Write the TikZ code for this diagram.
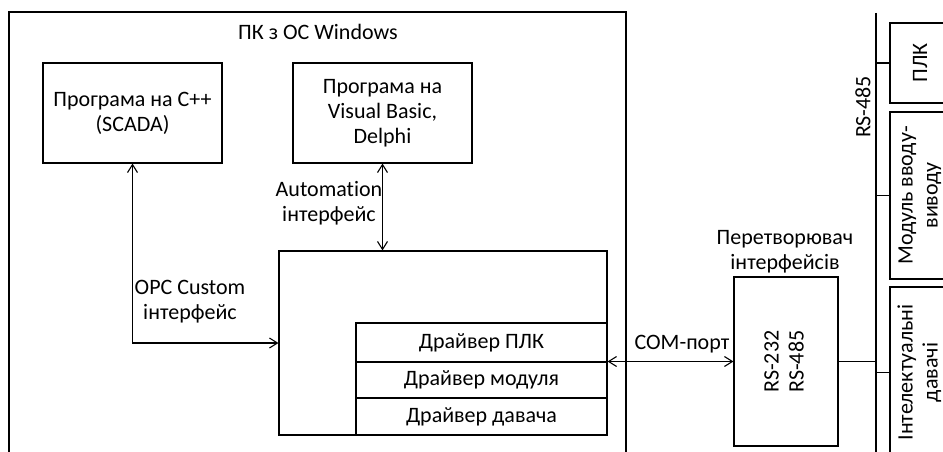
\documentclass[tikz,border=0pt]{standalone}
\usepackage{fontspec}
\setmainfont{Carlito}[Ligatures=NoCommon]
\usetikzlibrary{arrows.meta}
\begin{document}
\begin{tikzpicture}[x=1pt, y=-1pt, line width=1.1pt,
  font=\fontsize{22}{25}\selectfont,
  box/.style={draw, inner sep=0pt, align=center},
  lbl/.style={inner sep=0pt, align=center},
  link/.style={{Straight Barb[length=8pt,width=10pt]}-{Straight Barb[length=8pt,width=10pt]}}]
\useasboundingbox (0,0) rectangle (943,452);
\clip (0,0) rectangle (943,452);

% PC frame
\draw (9,470) -- (9,12) -- (626,12) -- (626,470);
\node[lbl] (title) at (318,32) {ПК з ОС Windows};

% applications
\node[box, minimum width=179pt, minimum height=100pt] (cpp) at (132.5,113) {Програма на C++\\(SCADA)};
\node[box, minimum width=179pt, minimum height=100pt] (vb) at (382.5,113) {Програма на\\Visual Basic,\\Delphi};

% OPC server with drivers
\node[box, minimum width=328pt, minimum height=184pt] (srv) at (443,343) {};
\node[box, minimum width=251pt, minimum height=39pt] (dplc) at (481.5,342.5) {Драйвер ПЛК};
\node[box, minimum width=251pt, minimum height=36pt] (dmod) at (481.5,380) {Драйвер модуля};
\node[box, minimum width=251pt, minimum height=37pt] (dsen) at (481.5,416.5) {Драйвер давача};

% interfaces inside the PC
\draw[link] (cpp.south) |- (srv.west);
\draw[link] (vb.south) -- (vb.south |- srv.north);
\node[lbl] (opclbl) at (190,302) {OPC Custom\\інтерфейс};
\node[lbl] (autolbl) at (329,203) {Automation\\інтерфейс};

% interface converter
\node[box, minimum width=104pt, minimum height=169pt] (conv) at (786,361.5)
  {\rotatebox{90}{\begin{tabular}{@{}c@{}}RS-232\\RS-485\end{tabular}}};
\node[lbl] (convlbl) at (785,252) {Перетворювач\\інтерфейсів};
\draw[link] (conv.west -| srv.east) -- (conv.west);
\node[lbl] (comlbl) at (682,344) {COM-порт};

% RS-485 bus
\coordinate (busT) at (876,13);
\coordinate (busB) at (876,470);
\draw (busT) -- (busB);
\node[lbl, rotate=90] (buslbl) at (863,107) {RS-485};
\draw (conv.east) -- (conv.east -| busT);

% field devices
\node[box, minimum width=60pt, minimum height=80pt] (plc) at (920,63) {\rotatebox{90}{ПЛК}};
\node[box, minimum width=60pt, minimum height=167pt] (iomod) at (920,195.5)
  {\rotatebox{90}{\begin{tabular}{@{}c@{}}Модуль вводу-\\виводу\end{tabular}}};
\node[box, minimum width=60pt, minimum height=171pt] (sens) at (920,372.5)
  {\rotatebox{90}{\begin{tabular}{@{}c@{}}Інтелектуальні\\давачі\end{tabular}}};
\draw (plc.west) -- (plc.west -| busT);
\draw (iomod.west) -- (iomod.west -| busT);
\draw (sens.west) -- (sens.west -| busT);
\end{tikzpicture}
\end{document}
